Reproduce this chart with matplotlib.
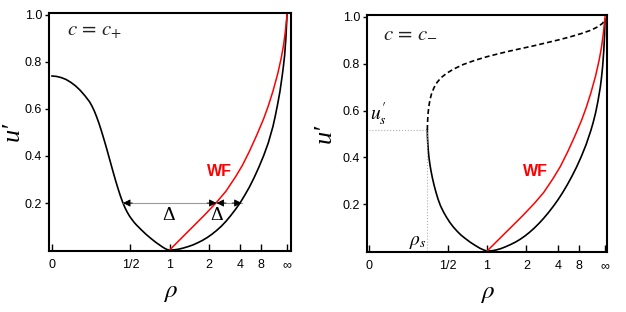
import matplotlib
matplotlib.use("Agg")
import matplotlib.pyplot as plt

plt.rcParams['font.family'] = ['Liberation Sans', 'DejaVu Sans']
plt.rcParams['mathtext.fontset'] = 'stix'

# axe horizontal compactifié : s = rho / (1 + rho)
tick_s = [0, 1 / 3, 1 / 2, 2 / 3, 4 / 5, 8 / 9, 1]
tick_labels = ['0', '1/2', '1', '2', '4', '8', '∞']
ytick_vals = [0.2, 0.4, 0.6, 0.8, 1.0]

# c = c+ : courbe noire
s_plus = [0.00, 0.02, 0.04, 0.06, 0.08, 0.10, 0.12, 0.14, 0.16, 0.17, 0.18, 0.19, 0.20,
          0.21, 0.22, 0.23, 0.24, 0.25, 0.26, 0.27, 0.28, 0.29, 0.30, 0.31, 0.32, 0.33,
          0.34, 0.35, 0.36, 0.38, 0.40, 0.42, 0.44, 0.46, 0.47, 0.48, 0.49, 0.50,
          0.52, 0.54, 0.56, 0.58, 0.60, 0.62, 0.64, 0.66, 0.68, 0.70, 0.72, 0.74, 0.76,
          0.78, 0.80, 0.82, 0.84, 0.86, 0.88, 0.90, 0.92, 0.94, 0.95, 0.96, 0.97, 0.975,
          0.98, 0.985, 0.99, 0.995, 1.0]
u_plus = [0.740, 0.738, 0.733, 0.725, 0.713, 0.698, 0.679, 0.656, 0.630, 0.612, 0.591,
          0.566, 0.538, 0.507, 0.474, 0.440, 0.404, 0.368, 0.332, 0.297, 0.264, 0.233,
          0.205, 0.181, 0.161, 0.144, 0.130, 0.117, 0.106, 0.086, 0.067, 0.050, 0.034,
          0.020, 0.013, 0.007, 0.002, 0.0,
          0.001, 0.004, 0.009, 0.015, 0.022, 0.031, 0.041, 0.053, 0.067, 0.083, 0.101,
          0.122, 0.146, 0.172, 0.200, 0.233, 0.268, 0.308, 0.352, 0.400, 0.455, 0.525,
          0.570, 0.620, 0.675, 0.710, 0.745, 0.785, 0.830, 0.900, 1.0]

# courbe WF (rouge)
s_wf = [0.50, 0.55, 0.60, 0.65, 0.70, 0.74, 0.78, 0.81, 0.84, 0.87, 0.90, 0.92, 0.94,
        0.96, 0.975, 0.985, 0.993, 1.0]
u_wf = [0.0, 0.05, 0.10, 0.15, 0.203, 0.25, 0.31, 0.36, 0.42, 0.486, 0.557, 0.612, 0.675,
        0.748, 0.815, 0.87, 0.93, 1.0]

# flèches Delta à u' = 0.2
delta_level = 0.2
delta_s = [0.302, 0.70, 0.807]

# c = c- : branche instable (tirets) et branche stable
s_minus_up = [0.247, 0.248, 0.250, 0.253, 0.258, 0.265, 0.275, 0.288, 0.305, 0.33, 0.36,
              0.40, 0.45, 0.50, 0.55, 0.60, 0.65, 0.70, 0.75, 0.80, 0.85, 0.90, 0.94,
              0.97, 0.99, 1.0]
u_minus_up = [0.517, 0.55, 0.585, 0.615, 0.645, 0.672, 0.697, 0.72, 0.74, 0.76, 0.778,
              0.797, 0.815, 0.83, 0.843, 0.855, 0.866, 0.877, 0.889, 0.901, 0.914, 0.929,
              0.943, 0.958, 0.973, 0.99]
s_minus_low = [0.247, 0.2475, 0.249, 0.251, 0.254, 0.258, 0.263, 0.269, 0.276, 0.284,
               0.293, 0.303, 0.315, 0.328, 0.342, 0.357, 0.373, 0.39, 0.41, 0.43, 0.45,
               0.47, 0.485, 0.50,
               0.52, 0.54, 0.56, 0.58, 0.60, 0.62, 0.64, 0.66, 0.68, 0.70, 0.72, 0.74,
               0.76, 0.78, 0.80, 0.82, 0.84, 0.86, 0.88, 0.90, 0.92, 0.94, 0.95, 0.96,
               0.97, 0.98, 0.985, 0.99, 0.995, 0.998, 1.0]
u_minus_low = [0.517, 0.49, 0.46, 0.43, 0.40, 0.37, 0.34, 0.31, 0.28, 0.25, 0.22, 0.193,
               0.168, 0.145, 0.123, 0.103, 0.085, 0.068, 0.052, 0.037, 0.024, 0.012,
               0.005, 0.0,
               0.001, 0.005, 0.011, 0.019, 0.028, 0.038, 0.050, 0.064, 0.080, 0.098,
               0.118, 0.140, 0.164, 0.190, 0.218, 0.249, 0.283, 0.320, 0.360, 0.405,
               0.455, 0.515, 0.55, 0.59, 0.64, 0.70, 0.74, 0.79, 0.86, 0.92, 0.99]
s_s = 0.247
u_s = 0.517

fig = plt.figure(figsize=(6.26, 3.12), dpi=100)
ax1 = fig.add_axes([0.0783, 0.1955, 0.3866, 0.763])
ax2 = fig.add_axes([0.5863, 0.1923, 0.3834, 0.7596])


def style_axes(ax, xlim, ylabel_x):
    ax.set_xlim(*xlim)
    ax.set_ylim(-0.004, 1.008)
    ax.set_xticks(tick_s)
    ax.set_xticklabels(tick_labels)
    ax.set_yticks(ytick_vals)
    ax.set_yticklabels(['%.1f' % v for v in ytick_vals])
    ax.tick_params(axis='x', direction='in', length=5, width=1, labelsize=9, pad=6)
    ax.tick_params(axis='y', direction='out', length=3, width=1, labelsize=9, pad=2)
    for sp in ax.spines.values():
        sp.set_linewidth(1.5)
    ax.set_xlabel(r'$\rho$', fontsize=18, labelpad=6)
    ax.set_ylabel('u′', fontsize=19, family=['Liberation Serif', 'DejaVu Serif'], style='italic')
    ax.yaxis.set_label_coords(ylabel_x, 0.5)


# Panneau gauche
style_axes(ax1, (-0.0128, 1.017), -0.105)
ax1.plot(s_plus, u_plus, color='black', lw=1.2)
ax1.plot(s_wf, u_wf, color='red', lw=1.1)
ax1.plot([delta_s[0], delta_s[2]], [delta_level, delta_level], color='#9a9a9a', lw=0.8)
for a, b in [(delta_s[0], delta_s[1]), (delta_s[1], delta_s[2])]:
    for end, start in [(a, a + 0.04), (b, b - 0.04)]:
        ax1.annotate('', xy=(end, delta_level), xytext=(start, delta_level),
                     arrowprops=dict(arrowstyle='-|>', color='black', lw=0.6,
                                     mutation_scale=11, shrinkA=0, shrinkB=0))
ax1.text(0.494, 0.145, 'Δ', family='Liberation Serif', fontsize=14, ha='center', va='center')
ax1.text(0.702, 0.145, 'Δ', family='Liberation Serif', fontsize=14, ha='center', va='center')
ax1.text(0.711, 0.336, 'WF', color='red', fontsize=11.5, fontweight='bold', ha='center', va='center')
ax1.text(0.074, 0.924, r'$c\,=\,c_{+}$', transform=ax1.transAxes, fontsize=15, va='center', color='#222222')

# Panneau droit
style_axes(ax2, (-0.0085, 1.0085), -0.13)
ax2.plot(s_minus_up, u_minus_up, color='black', lw=1.2, linestyle=(0, (3, 1.8)))
ax2.plot(s_minus_low, u_minus_low, color='black', lw=1.2)
ax2.plot(s_wf, u_wf, color='red', lw=1.1)
ax2.plot([0, s_s], [u_s, u_s], color='#b0b0b0', lw=0.8, linestyle=':')
ax2.plot([s_s, s_s], [0, u_s], color='#b0b0b0', lw=0.8, linestyle=':')
ax2.text(0.005, u_s + 0.01, r"$u^{\prime}_{s}$", fontsize=14, ha='left', va='bottom')
ax2.text(s_s - 0.005, 0.0, r'$\rho_s$', fontsize=14, ha='right', va='bottom')
ax2.text(0.707, 0.341, 'WF', color='red', fontsize=11.5, fontweight='bold', ha='center', va='center')
ax2.text(0.067, 0.928, r'$c\,=\,c_{-}$', transform=ax2.transAxes, fontsize=15, va='center', color='#222222')

fig.savefig('out.png', dpi=100)
